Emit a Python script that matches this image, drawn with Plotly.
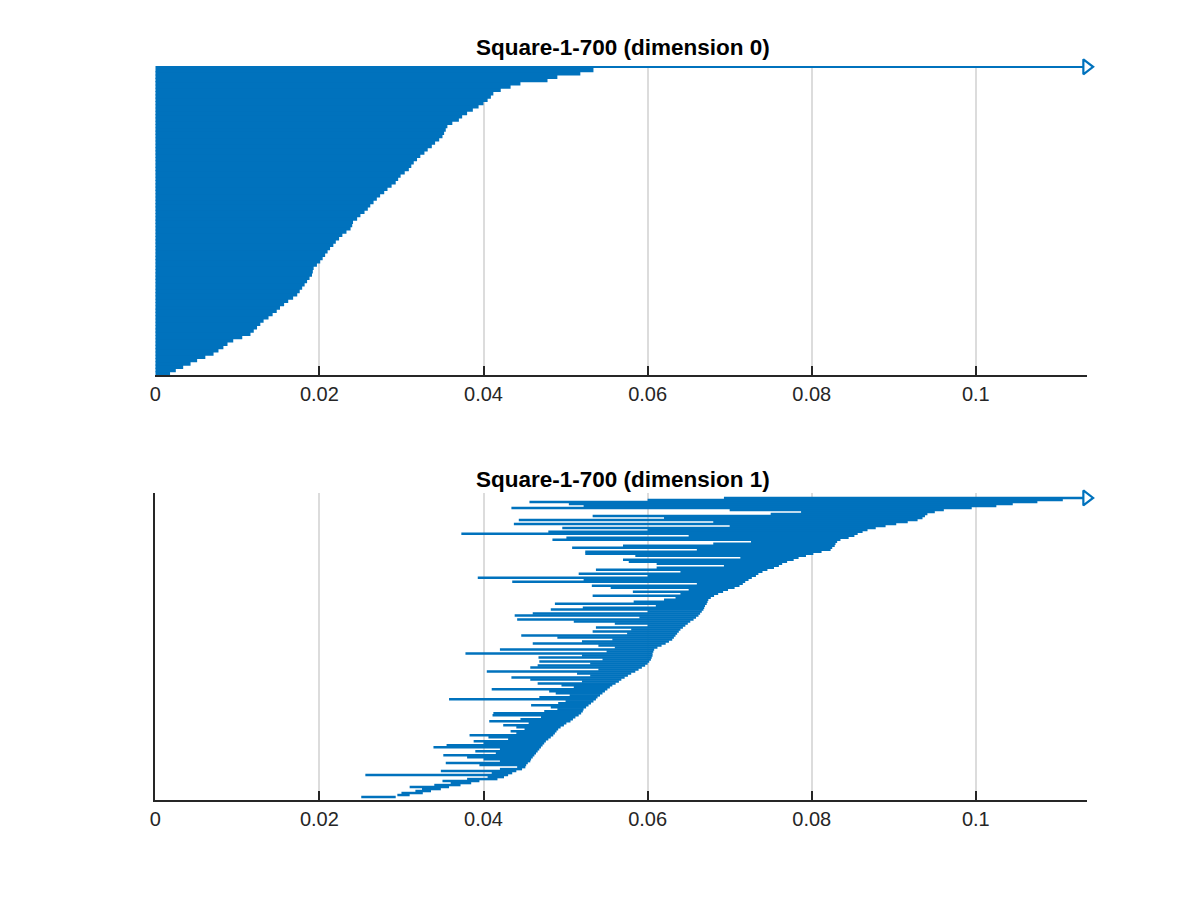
import plotly.graph_objects as go

# persistence barcode, Square-1-700
title0 = "Square-1-700 (dimension 0)"
title1 = "Square-1-700 (dimension 1)"

# dimension 0: all bars born at 0, deaths sorted ascending (bottom to top)
dim0_deaths = [
    0.0018, 0.0025, 0.0034, 0.0043, 0.0051, 0.0061, 0.0071, 0.0077, 0.0083, 0.0088,
    0.0095, 0.0106, 0.0116, 0.0120, 0.0124, 0.0128, 0.0132, 0.0138, 0.0143, 0.0148,
    0.0152, 0.0157, 0.0162, 0.0168, 0.0173, 0.0176, 0.0179, 0.0182, 0.0185, 0.0188,
    0.0191, 0.0192, 0.0193, 0.0197, 0.0201, 0.0204, 0.0207, 0.0210, 0.0213, 0.0217,
    0.0220, 0.0224, 0.0228, 0.0233, 0.0238, 0.0240, 0.0241, 0.0246, 0.0250, 0.0255,
    0.0259, 0.0262, 0.0266, 0.0270, 0.0274, 0.0279, 0.0283, 0.0288, 0.0293, 0.0296,
    0.0299, 0.0304, 0.0309, 0.0312, 0.0315, 0.0319, 0.0323, 0.0328, 0.0332, 0.0337,
    0.0341, 0.0346, 0.0350, 0.0352, 0.0354, 0.0356, 0.0362, 0.0370, 0.0374, 0.0380,
    0.0387, 0.0394, 0.0400, 0.0405, 0.0409, 0.0412, 0.0421, 0.0433, 0.0445, 0.0478,
    0.0490, 0.0518, 0.0534,
]
dim0_inf_birth = 0.0

# dimension 1: (birth, death), bottom to top
dim1_births = [
    0.0251, 0.0295, 0.0300, 0.0317, 0.0325, 0.0310, 0.0340, 0.0360, 0.0350, 0.0380,
    0.0405, 0.0256, 0.0410, 0.0348, 0.0420, 0.0441, 0.0395, 0.0354, 0.0420, 0.0400,
    0.0380, 0.0351, 0.0415, 0.0390, 0.0420, 0.0339, 0.0355, 0.0400, 0.0388, 0.0430,
    0.0406, 0.0383, 0.0440, 0.0433, 0.0450, 0.0440, 0.0424, 0.0455, 0.0407, 0.0445,
    0.0470, 0.0411, 0.0412, 0.0474, 0.0490, 0.0482, 0.0458, 0.0491, 0.0500, 0.0358,
    0.0468, 0.0505, 0.0488, 0.0480, 0.0410, 0.0510, 0.0495, 0.0466, 0.0520, 0.0457,
    0.0434, 0.0530, 0.0514, 0.0404, 0.0540, 0.0457, 0.0466, 0.0530, 0.0468, 0.0545,
    0.0467, 0.0520, 0.0378, 0.0550, 0.0420, 0.0560, 0.0540, 0.0460, 0.0520, 0.0557,
    0.0490, 0.0446, 0.0575, 0.0533, 0.0580, 0.0537, 0.0600, 0.0560, 0.0510, 0.0441,
    0.0590, 0.0438, 0.0460, 0.0600, 0.0482, 0.0521, 0.0610, 0.0487, 0.0583, 0.0620,
    0.0634, 0.0533, 0.0640, 0.0582, 0.0650, 0.0555, 0.0532, 0.0660, 0.0435, 0.0522,
    0.0393, 0.0600, 0.0516, 0.0640, 0.0537, 0.0611, 0.0693, 0.0611, 0.0577, 0.0570,
    0.0713, 0.0585, 0.0524, 0.0524, 0.0660, 0.0508, 0.0570, 0.0680, 0.0726, 0.0484,
    0.0501, 0.0650, 0.0373, 0.0479, 0.0600, 0.0496, 0.0700, 0.0437, 0.0680, 0.0443,
    0.0620, 0.0533, 0.0750, 0.0787, 0.0700, 0.0434, 0.0522, 0.0504, 0.0456, 0.0600,
]
dim1_deaths = [
    0.0293, 0.0310, 0.0326, 0.0336, 0.0348, 0.0358, 0.0372, 0.0385, 0.0395, 0.0417,
    0.0425, 0.0430, 0.0435, 0.0440, 0.0447, 0.0451, 0.0452, 0.0454, 0.0457, 0.0458,
    0.0460, 0.0462, 0.0464, 0.0466, 0.0468, 0.0470, 0.0472, 0.0474, 0.0476, 0.0479,
    0.0482, 0.0485, 0.0487, 0.0489, 0.0491, 0.0494, 0.0498, 0.0501, 0.0506, 0.0509,
    0.0512, 0.0516, 0.0519, 0.0521, 0.0522, 0.0525, 0.0528, 0.0531, 0.0534, 0.0537,
    0.0539, 0.0542, 0.0545, 0.0548, 0.0551, 0.0554, 0.0557, 0.0561, 0.0565, 0.0568,
    0.0572, 0.0576, 0.0580, 0.0585, 0.0589, 0.0593, 0.0597, 0.0600, 0.0602, 0.0604,
    0.0605, 0.0606, 0.0606, 0.0607, 0.0608, 0.0612, 0.0617, 0.0622, 0.0626, 0.0630,
    0.0632, 0.0634, 0.0636, 0.0638, 0.0640, 0.0643, 0.0646, 0.0649, 0.0652, 0.0656,
    0.0659, 0.0662, 0.0664, 0.0666, 0.0668, 0.0669, 0.0670, 0.0672, 0.0673, 0.0674,
    0.0677, 0.0681, 0.0686, 0.0692, 0.0698, 0.0706, 0.0712, 0.0716, 0.0719, 0.0723,
    0.0727, 0.0732, 0.0735, 0.0740, 0.0746, 0.0754, 0.0760, 0.0764, 0.0770, 0.0778,
    0.0784, 0.0793, 0.0802, 0.0812, 0.0823, 0.0825, 0.0828, 0.0829, 0.0831, 0.0835,
    0.0845, 0.0852, 0.0856, 0.0862, 0.0868, 0.0878, 0.0890, 0.0903, 0.0917, 0.0929,
    0.0935, 0.0938, 0.0941, 0.0950, 0.0961, 0.0995, 0.1025, 0.1045, 0.1075, 0.1106,
]
dim1_inf_birth = 0.0693

x_max = 0.1135
x_ticks = [0, 0.02, 0.04, 0.06, 0.08, 0.1]
x_ticktext = ["0", "0.02", "0.04", "0.06", "0.08", "0.1"]

blue = "#0072BD"
font = "Liberation Sans, Arial, Helvetica, sans-serif"

# page has an 8px body margin, so pixel layout positions are shifted by it
OFF = 8
W, H = 1200, 900


def dom_x(a, b):
    return [(a - OFF) / W, (b - OFF) / W]


def dom_y(top, bottom):
    return [1 - (bottom - OFF) / H, 1 - (top - OFF) / H]


def bar_xy(births, deaths):
    xs, ys = [], []
    for i, (b, d) in enumerate(zip(births, deaths)):
        xs += [b, d, None]
        ys += [i + 1, i + 1, None]
    return xs, ys


def inf_bar(birth, row, xa, ya):
    # infinite bar: line up to the axis end, open arrowhead sitting on the edge
    line = go.Scatter(x=[birth, x_max * 0.997], y=[row, row], mode="lines",
                      line=dict(color=blue, width=2.5), xaxis=xa, yaxis=ya,
                      hoverinfo="skip", showlegend=False)
    head = go.Scatter(x=[x_max], y=[row], mode="markers",
                      marker=dict(symbol="triangle-right-open", size=13, color=blue,
                                  line=dict(color=blue, width=2.2)),
                      cliponaxis=False, xaxis=xa, yaxis=ya, hoverinfo="skip",
                      showlegend=False)
    return [line, head]


fig = go.Figure()

# top panel
x0, y0 = bar_xy([0.0] * len(dim0_deaths), dim0_deaths)
fig.add_trace(go.Scatter(x=x0, y=y0, mode="lines", line=dict(color=blue, width=4.4),
                         xaxis="x", yaxis="y", hoverinfo="skip", showlegend=False))
n0 = len(dim0_deaths) + 1
fig.add_traces(inf_bar(dim0_inf_birth, n0, "x", "y"))

# bottom panel
x1, y1 = bar_xy(dim1_births, dim1_deaths)
fig.add_trace(go.Scatter(x=x1, y=y1, mode="lines", line=dict(color=blue, width=2.5),
                         xaxis="x2", yaxis="y2", hoverinfo="skip", showlegend=False))
n1 = len(dim1_deaths) + 1
fig.add_traces(inf_bar(dim1_inf_birth, n1, "x2", "y2"))

tickfont = dict(family=font, size=20, color="#262626")
xcommon = dict(range=[0, x_max], tickvals=x_ticks, ticktext=x_ticktext, showgrid=True,
               gridcolor="#dcdcdc", gridwidth=1.6, showline=True, linecolor="#262626",
               linewidth=2, ticks="inside", ticklen=9, tickwidth=2, tickcolor="#262626",
               tickfont=tickfont, zeroline=False, layer="below traces",
               domain=dom_x(150, 1086))
ycommon = dict(showticklabels=False, ticks="", showgrid=False, zeroline=False,
               linecolor="#262626", linewidth=2, layer="below traces")

fig.update_layout(
    width=W, height=H,
    margin=dict(l=0, r=0, t=0, b=0),
    paper_bgcolor="white", plot_bgcolor="white",
    xaxis=dict(anchor="y", **xcommon),
    yaxis=dict(anchor="x", range=[0.5, n0 + 0.25], domain=dom_y(66, 375),
               showline=False, **ycommon),
    xaxis2=dict(anchor="y2", **xcommon),
    yaxis2=dict(anchor="x2", range=[-0.5, n1 + 2.5], domain=dom_y(493, 800),
                showline=True, **ycommon),
    annotations=[
        dict(text="<b>" + title0 + "</b>", x=(620 - OFF) / W, xref="paper",
             y=1 - (48 - OFF) / H, yref="paper", yanchor="middle", showarrow=False,
             font=dict(family=font, size=22.5, color="black")),
        dict(text="<b>" + title1 + "</b>", x=(620 - OFF) / W, xref="paper",
             y=1 - (479 - OFF) / H, yref="paper", yanchor="middle", showarrow=False,
             font=dict(family=font, size=22.5, color="black")),
    ],
)

fig.write_html("out.html")
